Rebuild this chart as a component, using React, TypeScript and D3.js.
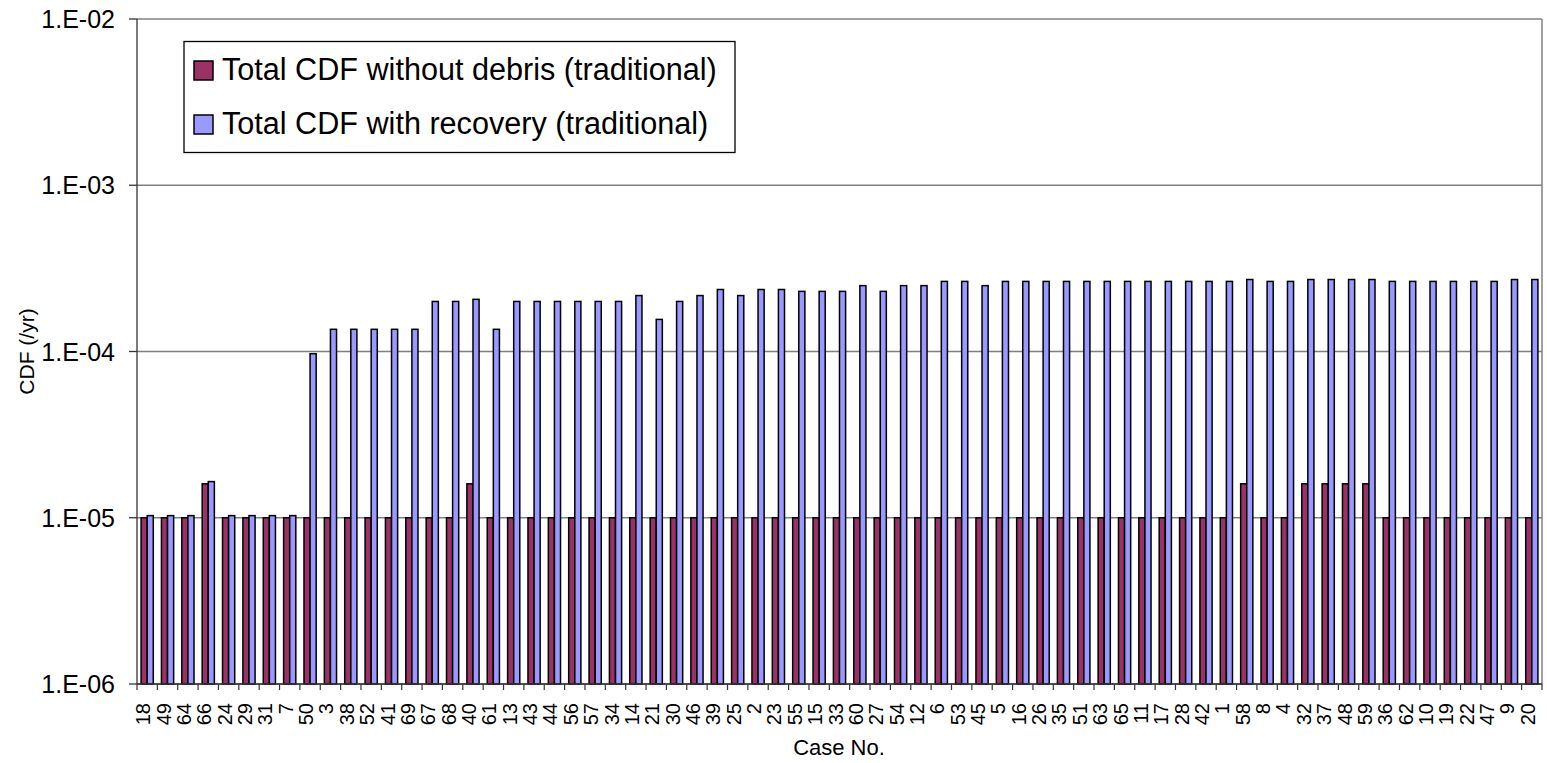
import React from "react";
import { scaleBand, scaleLog } from "d3";

const cases = [
  "18", "49", "64", "66", "24", "29", "31", "7", "50", "3", "38", "52", "41", "69",
  "67", "68", "40", "61", "13", "43", "44", "56", "57", "34", "14", "21", "30", "46",
  "39", "25", "2", "23", "55", "15", "33", "60", "27", "54", "12", "6", "53", "45",
  "5", "16", "26", "35", "51", "63", "65", "11", "17", "28", "42", "1", "58", "8",
  "4", "32", "37", "48", "59", "36", "62", "10", "19", "22", "47", "9", "20",
];

// Total CDF without debris (traditional)
const withoutDebris = [
  1e-5, 1e-5, 1e-5, 1.6e-5, 1e-5, 1e-5, 1e-5, 1e-5, 1e-5, 1e-5, 1e-5, 1e-5, 1e-5, 1e-5,
  1e-5, 1e-5, 1.6e-5, 1e-5, 1e-5, 1e-5, 1e-5, 1e-5, 1e-5, 1e-5, 1e-5, 1e-5, 1e-5, 1e-5,
  1e-5, 1e-5, 1e-5, 1e-5, 1e-5, 1e-5, 1e-5, 1e-5, 1e-5, 1e-5, 1e-5, 1e-5, 1e-5, 1e-5,
  1e-5, 1e-5, 1e-5, 1e-5, 1e-5, 1e-5, 1e-5, 1e-5, 1e-5, 1e-5, 1e-5, 1e-5, 1.6e-5, 1e-5,
  1e-5, 1.6e-5, 1.6e-5, 1.6e-5, 1.6e-5, 1e-5, 1e-5, 1e-5, 1e-5, 1e-5, 1e-5, 1e-5, 1e-5,
];

// Total CDF with recovery (traditional)
const withRecovery = [
  1.03e-5, 1.03e-5, 1.03e-5, 1.65e-5, 1.03e-5, 1.03e-5, 1.03e-5, 1.03e-5, 9.7e-5,
  1.36e-4, 1.36e-4, 1.36e-4, 1.36e-4, 1.36e-4, 2.0e-4, 2.0e-4, 2.06e-4, 1.36e-4,
  2.0e-4, 2.0e-4, 2.0e-4, 2.0e-4, 2.0e-4, 2.0e-4, 2.17e-4, 1.56e-4, 2.0e-4, 2.17e-4,
  2.36e-4, 2.17e-4, 2.36e-4, 2.36e-4, 2.3e-4, 2.3e-4, 2.3e-4, 2.49e-4, 2.3e-4, 2.49e-4,
  2.49e-4, 2.64e-4, 2.64e-4, 2.49e-4, 2.64e-4, 2.64e-4, 2.64e-4, 2.64e-4, 2.64e-4,
  2.64e-4, 2.64e-4, 2.64e-4, 2.64e-4, 2.64e-4, 2.64e-4, 2.64e-4, 2.71e-4, 2.64e-4,
  2.64e-4, 2.71e-4, 2.71e-4, 2.71e-4, 2.71e-4, 2.64e-4, 2.64e-4, 2.64e-4, 2.64e-4,
  2.64e-4, 2.64e-4, 2.71e-4, 2.71e-4,
];

const seriesNames = [
  "Total CDF without debris (traditional)",
  "Total CDF with recovery (traditional)",
];
const seriesColors = ["#993366", "#9999FF"];
const yTicks = [1e-6, 1e-5, 1e-4, 1e-3, 1e-2];
const yTickLabels = ["1.E-06", "1.E-05", "1.E-04", "1.E-03", "1.E-02"];

const W = 1547;
const H = 763;
const left = 137;
const right = 1542;
const top = 19;
const bottom = 684;
const font = "'Liberation Sans', Arial, sans-serif";

const App: React.FC = () => {
  const x0 = scaleBand<string>().domain(cases).range([left, right]).padding(0);
  const x1 = scaleBand<number>()
    .domain([0, 1])
    .range([0, x0.bandwidth()])
    .paddingInner(0)
    .paddingOuter(0.67);
  const y = scaleLog().domain([1e-6, 1e-2]).range([bottom, top]);

  const series = [withoutDebris, withRecovery];

  return (
    <svg
      width={W}
      height={H}
      style={{ position: "absolute", left: 0, top: 0, background: "#fff" }}
      fontFamily={font}
    >
      {/* grid lines */}
      {yTicks.map((t) => (
        <line
          key={t}
          x1={left}
          x2={right}
          y1={y(t)}
          y2={y(t)}
          stroke="#808080"
          strokeWidth={1.3}
        />
      ))}
      <line x1={right} x2={right} y1={top} y2={bottom} stroke="#808080" strokeWidth={1.5} />

      {/* bars */}
      {cases.map((c, i) => (
        <g key={c} transform={`translate(${x0(c)},0)`}>
          {series.map((s, k) => (
            <rect
              key={k}
              x={x1(k)}
              y={y(s[i])}
              width={x1.bandwidth()}
              height={bottom - y(s[i])}
              fill={seriesColors[k]}
              stroke="#000"
              strokeWidth={1.5}
            />
          ))}
        </g>
      ))}

      {/* axes */}
      <line x1={left} x2={left} y1={top} y2={bottom} stroke="#333" strokeWidth={1.3} />
      <line x1={left} x2={right} y1={bottom} y2={bottom} stroke="#333" strokeWidth={1.3} />
      {yTicks.map((t, i) => (
        <g key={t}>
          <line x1={left - 8} x2={left} y1={y(t)} y2={y(t)} stroke="#333" strokeWidth={1.3} />
          <text x={115} y={y(t) + 9} textAnchor="end" fontSize={25} fill="#000">
            {yTickLabels[i]}
          </text>
        </g>
      ))}
      {cases.map((c, i) => (
        <line
          key={c}
          x1={left + i * x0.step()}
          x2={left + i * x0.step()}
          y1={bottom}
          y2={bottom + 6}
          stroke="#333"
          strokeWidth={1.2}
        />
      ))}
      <line x1={right} x2={right} y1={bottom} y2={bottom + 6} stroke="#333" strokeWidth={1.2} />
      {cases.map((c) => (
        <text
          key={c}
          transform={`translate(${x0(c)! + x0.bandwidth() / 2 + 3},703) rotate(-90)`}
          textAnchor="end"
          fontSize={20}
          fill="#000"
        >
          {c}
        </text>
      ))}

      {/* axis titles */}
      <text x={839} y={755} textAnchor="middle" fontSize={22} fill="#000">
        Case No.
      </text>
      <text
        transform={`translate(34,${(top + bottom) / 2}) rotate(-90)`}
        textAnchor="middle"
        fontSize={21}
        fill="#000"
      >
        CDF (/yr)
      </text>

      {/* legend */}
      <rect x={184} y={41.5} width={551} height={111} fill="#fff" stroke="#000" strokeWidth={1.3} />
      {seriesNames.map((n, k) => (
        <g key={n} transform={`translate(0,${k * 54})`}>
          <rect x={194} y={61} width={19} height={19} fill={seriesColors[k]} stroke="#000" strokeWidth={1.5} />
          <text x={222} y={80} fontSize={30.6} fill="#000">
            {n}
          </text>
        </g>
      ))}
    </svg>
  );
};

export default App;
